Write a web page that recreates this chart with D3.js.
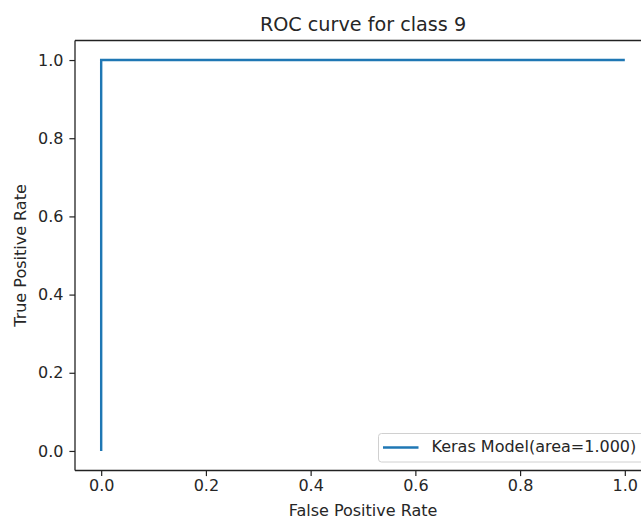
<!DOCTYPE html>
<html>
<head>
<meta charset="utf-8">
<script src="https://cdn.jsdelivr.net/npm/d3@7"></script>
<style>
  html, body { margin: 0; padding: 0; background: #fff; }
  svg { display: block; font-family: "DejaVu Sans", sans-serif; }
</style>
</head>
<body>
<svg id="chart" width="641" height="519"></svg>
<script>
// ROC curve points
const fpr = [0.0, 0.0, 1.0];
const tpr = [0.0, 1.0, 1.0];
const xTicks = [0.0, 0.2, 0.4, 0.6, 0.8, 1.0];
const yTicks = [0.0, 0.2, 0.4, 0.6, 0.8, 1.0];
const titleText = "ROC curve for class 9";
const xLabel = "False Positive Rate";
const yLabel = "True Positive Rate";
const legendLabel = "Keras Model(area=1.000)";

const svg = d3.select("#chart");
const plot = { left: 75, right: 651, top: 40.5, bottom: 470.5 };
const textColor = "#262626";
const fontSize = 16;

// axis ranges with 5% padding around the data
const x = d3.scaleLinear().domain([-0.05, 1.05]).range([plot.left, plot.right]);
const y = d3.scaleLinear().domain([-0.05, 1.05]).range([plot.bottom, plot.top]);

// curve
const line = d3.line().x((d, i) => x(fpr[i])).y((d, i) => y(tpr[i]));
svg.append("path")
  .datum(fpr)
  .attr("d", line)
  .attr("fill", "none")
  .attr("stroke", "#1f77b4")
  .attr("stroke-width", 2.4)
  .attr("stroke-linecap", "butt");

// axes
const xAxis = d3.axisBottom(x).tickValues(xTicks).tickFormat(d3.format(".1f")).tickSize(5.6).tickPadding(4);
const yAxis = d3.axisLeft(y).tickValues(yTicks).tickFormat(d3.format(".1f")).tickSize(5.6).tickPadding(6);

const gx = svg.append("g").attr("transform", `translate(0,${plot.bottom})`).call(xAxis);
const gy = svg.append("g").attr("transform", `translate(${plot.left},0)`).call(yAxis);
[gx, gy].forEach(g => {
  g.select(".domain").remove();
  g.selectAll(".tick line").attr("stroke", "#222").attr("stroke-width", 1.2);
  g.selectAll(".tick text")
    .attr("fill", textColor)
    .style("font-size", fontSize + "px")
    .style("font-family", "DejaVu Sans, sans-serif");
});

// spines
const spines = svg.append("g").attr("stroke", "#222").attr("stroke-width", 1.3).attr("fill", "none");
spines.append("line").attr("x1", plot.left).attr("x2", plot.left).attr("y1", plot.top).attr("y2", plot.bottom);
spines.append("line").attr("x1", plot.left).attr("x2", plot.right).attr("y1", plot.bottom).attr("y2", plot.bottom);
spines.append("line").attr("x1", plot.left).attr("x2", plot.right).attr("y1", plot.top).attr("y2", plot.top);
spines.append("line").attr("x1", plot.right).attr("x2", plot.right).attr("y1", plot.top).attr("y2", plot.bottom);

// title and axis labels
svg.append("text")
  .attr("x", (plot.left + plot.right) / 2).attr("y", 31)
  .attr("text-anchor", "middle").attr("fill", textColor)
  .style("font-size", "19.2px").text(titleText);

svg.append("text")
  .attr("x", (plot.left + plot.right) / 2).attr("y", 516)
  .attr("text-anchor", "middle").attr("fill", textColor)
  .style("font-size", fontSize + "px").text(xLabel);

svg.append("text")
  .attr("transform", `translate(25.5,${(plot.top + plot.bottom) / 2}) rotate(-90)`)
  .attr("text-anchor", "middle").attr("fill", textColor)
  .style("font-size", fontSize + "px").text(yLabel);

// legend
const lg = svg.append("g").attr("transform", "translate(378.5,433.5)");
lg.append("rect")
  .attr("width", 268).attr("height", 28.5).attr("rx", 3)
  .attr("fill", "#fff").attr("fill-opacity", 0.8)
  .attr("stroke", "#d0d0d0").attr("stroke-width", 1);
lg.append("line")
  .attr("x1", 4.5).attr("x2", 40).attr("y1", 14).attr("y2", 14)
  .attr("stroke", "#1f77b4").attr("stroke-width", 2.4);
lg.append("text")
  .attr("x", 53).attr("y", 18.5)
  .attr("fill", textColor).style("font-size", fontSize + "px")
  .text(legendLabel);
</script>
</body>
</html>
